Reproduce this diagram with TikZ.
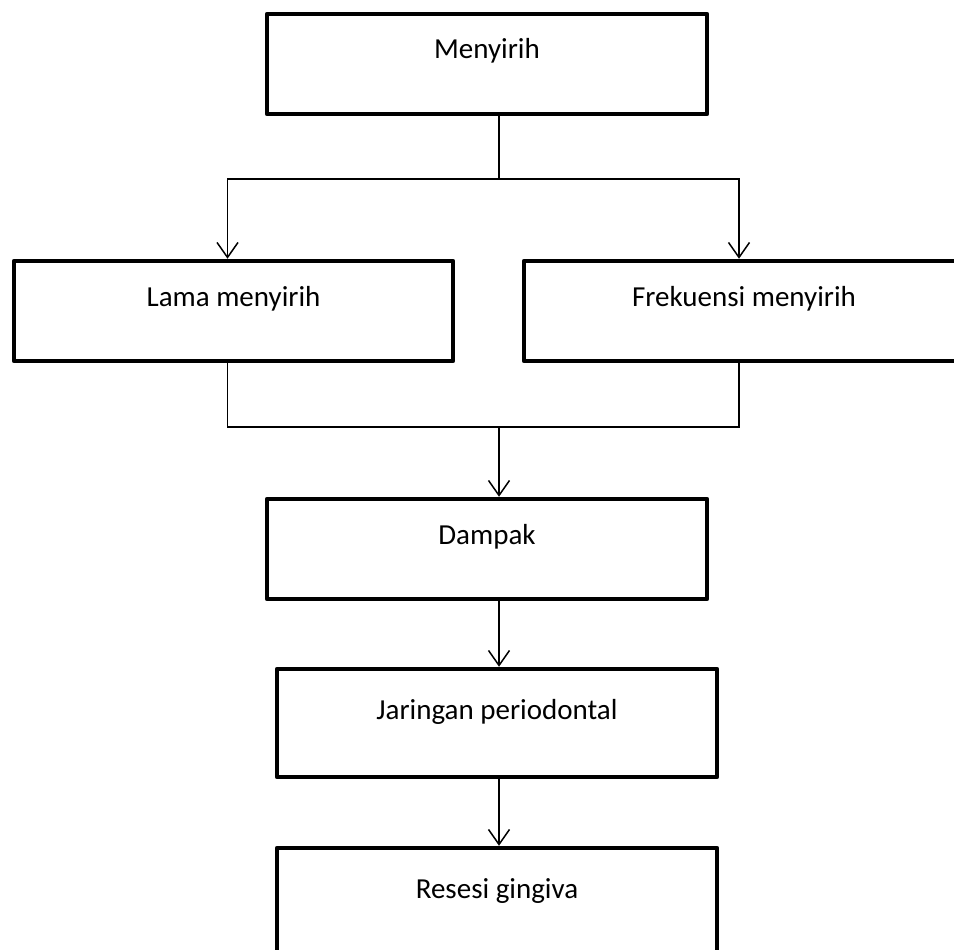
\documentclass[tikz,border=0pt]{standalone}
\usepackage{fontspec}
\setmainfont{Carlito}
\usepackage{tikz}
\usetikzlibrary{arrows,arrows.meta,calc}

\begin{document}
\begin{tikzpicture}[x=1pt,y=-1pt,
  kotak/.style={draw, line width=4.5pt, line join=round, minimum width=440pt, minimum height=100pt,
    text height=20pt, text depth=30pt, font=\fontsize{29pt}{34pt}\selectfont},
  garis/.style={line width=1.5pt},
  panah/.style={garis, -{Straight Barb[length=15pt,width=21pt,line width=1.5pt]}}]
\clip (0,0) rectangle (954,950);
\node[kotak] (menyirih) at (487,64) {Menyirih};
\node[kotak, minimum width=439pt] (lama) at (233.5,311) {Lama menyirih};
\node[kotak] (frekuensi) at (744,311) {Frekuensi menyirih};
\node[kotak] (dampak) at (487,549) {Dampak};
\node[kotak, minimum height=108pt, text depth=28pt] (jaringan) at (497,723) {Jaringan periodontal};
\node[kotak, minimum height=108pt, text depth=28pt] (resesi) at (497,902) {Resesi gingiva};
\coordinate (cabang) at (499,179);
\coordinate (gabung) at (499,427);
\draw[garis] ([xshift=12pt]menyirih.south) -- (cabang);
\draw[panah] (cabang) -| ([xshift=-6pt]lama.north);
\draw[panah] (cabang) -| ([xshift=-5pt]frekuensi.north);
\draw[garis] ([xshift=-6pt]lama.south) |- (gabung);
\draw[garis] ([xshift=-5pt]frekuensi.south) |- (gabung);
\draw[panah] (gabung) -- (gabung |- dampak.north);
\draw[panah] ([xshift=12pt]dampak.south) -- ([xshift=2pt]jaringan.north);
\draw[panah] ([xshift=2pt]jaringan.south) -- ([xshift=2pt]resesi.north);
\end{tikzpicture}
\end{document}
